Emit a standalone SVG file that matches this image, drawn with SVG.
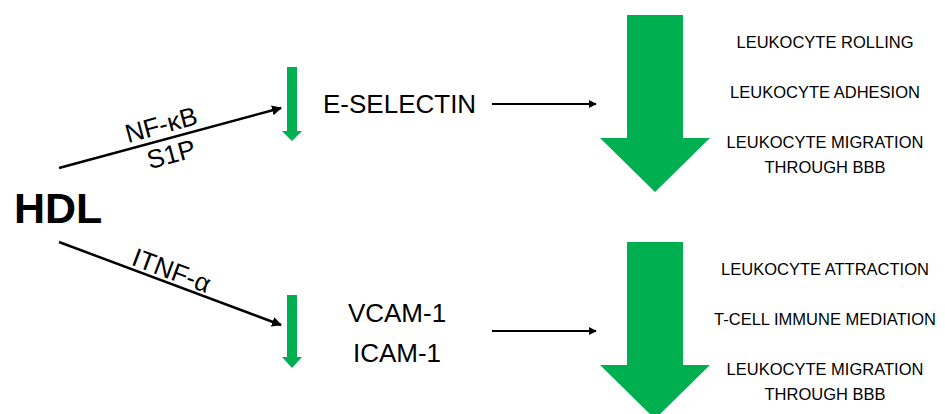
<svg xmlns="http://www.w3.org/2000/svg" width="945" height="414" viewBox="0 0 945 414">
<style>
text{font-family:"Liberation Sans",Arial,sans-serif;fill:#000}
.big{font-size:26px}
.lbl{font-size:26px}
.eff{font-size:16.5px;text-anchor:middle}
.con{stroke:#000;stroke-width:2.5;fill:none;marker-end:url(#ah)}
.grn{fill:#00B050}
</style>
<defs>
<marker id="ah" viewBox="0 0 10 10" refX="9" refY="5" markerWidth="4" markerHeight="4" orient="auto" markerUnits="strokeWidth">
<path d="M0,0 L10,5 L0,10 Z" fill="#000"/>
</marker>
</defs>
<g id="hdl"><text x="14" y="223" style="font-size:43px;font-weight:bold">HDL</text></g>
<g id="connectors">
<line class="con" x1="59" y1="168" x2="281" y2="108"/>
<line class="con" x1="59" y1="242" x2="281" y2="325"/>
<line class="con" x1="492" y1="104" x2="596" y2="104" style="stroke-width:2"/>
<line class="con" x1="492" y1="331" x2="596" y2="331" style="stroke-width:2"/>
<g transform="translate(165,139.2) rotate(-15.2)"><text class="lbl" x="0" y="-6" text-anchor="middle">NF-κB</text></g>
<g transform="translate(167,138.7) rotate(-15.2)"><text class="lbl" x="0" y="25" text-anchor="middle">S1P</text></g>
<g transform="translate(167,282.6) rotate(20.6)"><text class="lbl" x="0" y="-4" text-anchor="middle">ITNF-α</text></g>
</g>
<g id="down1"><polygon class="grn" points="287,67 297,67 297,131 302,131 292,141 282,131 287,131"/></g>
<g id="down2"><polygon class="grn" points="287,295 297,295 297,357 302,357 292,368 282,357 287,357"/></g>
<g id="eselectin"><text class="big" x="323" y="113">E-SELECTIN</text></g>
<g id="cam"><text class="big" x="397" y="322" text-anchor="middle">VCAM-1</text><text class="big" x="397" y="362" text-anchor="middle">ICAM-1</text></g>
<g id="bigdown1"><polygon class="grn" points="627,15 683,15 683,138 710,138 655,192 600,138 627,138"/></g>
<g id="bigdown2"><polygon class="grn" points="627,242 683,242 683,365 710,365 655,419 600,365 627,365"/></g>
<g id="effects1">
<text class="eff" x="825" y="48">LEUKOCYTE ROLLING</text>
<text class="eff" x="825" y="98">LEUKOCYTE ADHESION</text>
<text class="eff" x="825" y="148">LEUKOCYTE MIGRATION</text>
<text class="eff" x="825" y="173">THROUGH BBB</text>
</g>
<g id="effects2">
<text class="eff" x="825" y="275">LEUKOCYTE ATTRACTION</text>
<text class="eff" x="825" y="325">T-CELL IMMUNE MEDIATION</text>
<text class="eff" x="825" y="375">LEUKOCYTE MIGRATION</text>
<text class="eff" x="825" y="400">THROUGH BBB</text>
</g>
</svg>
